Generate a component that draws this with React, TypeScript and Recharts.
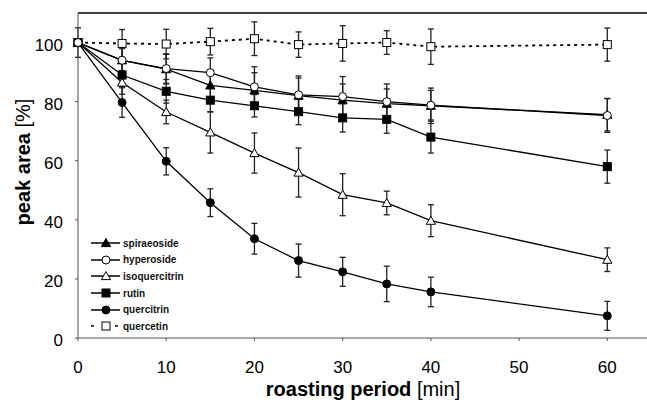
import { ErrorBar, Label, Legend, Line, LineChart, ReferenceLine, XAxis, YAxis } from 'recharts'

const MINUTES = [0, 5, 10, 15, 20, 25, 30, 35, 40, 60]

const SPIRAEOSIDE = [100, 94, 91, 85.5, 83.8, 82, 80.5, 79.3, 78.6, 75.6]
const SPIRAEOSIDE_ERR = [0, 4, 5, 5, 6, 6, 5.5, 5, 6, 5.5]
const HYPEROSIDE = [100, 94, 91.2, 89.8, 85, 82.3, 81.7, 80, 78.8, 75.3]
const HYPEROSIDE_ERR = [0, 4, 5, 5, 6.8, 6.4, 6.8, 6, 5, 5.7]
const ISOQUERCITRIN = [100, 86.5, 76.5, 69.6, 62.6, 56, 48.5, 45.7, 39.7, 26.5]
const ISOQUERCITRIN_ERR = [0, 4, 4, 7, 6.8, 8.3, 7.1, 4, 5.4, 4]
const RUTIN = [100, 89, 83.5, 80.5, 78.6, 76.6, 74.5, 74, 68, 58]
const RUTIN_ERR = [0, 4, 4, 4, 3.8, 4.4, 4.8, 4.7, 5.4, 5.6]
const QUERCITRIN = [100, 79.7, 59.8, 45.8, 33.6, 26.2, 22.4, 18.3, 15.6, 7.5]
const QUERCITRIN_ERR = [0, 5, 4.6, 4.7, 5.2, 5.6, 4.9, 6, 5, 4.9]
const QUERCETIN = [100, 99.7, 99.5, 100.3, 101.3, 99.3, 99.7, 100, 98.6, 99.3]
const QUERCETIN_ERR = [5, 4.7, 5, 4.5, 5.7, 4.3, 6, 4, 6, 5.6]

const X_TICKS = [0, 10, 20, 30, 40, 50, 60]
const Y_TICKS = [0, 20, 40, 60, 80, 100]

const FONT = '"Liberation Sans", Arial, sans-serif'
const AXIS = '#555'

type Shape = 'triangle' | 'circle' | 'square'

// legend order; the draw order below puts hyperoside on top
const SERIES: { key: string; values: number[]; errors: number[]; shape: Shape; filled: boolean; dashed?: boolean }[] = [
  { key: 'spiraeoside', values: SPIRAEOSIDE, errors: SPIRAEOSIDE_ERR, shape: 'triangle', filled: true },
  { key: 'hyperoside', values: HYPEROSIDE, errors: HYPEROSIDE_ERR, shape: 'circle', filled: false },
  { key: 'isoquercitrin', values: ISOQUERCITRIN, errors: ISOQUERCITRIN_ERR, shape: 'triangle', filled: false },
  { key: 'rutin', values: RUTIN, errors: RUTIN_ERR, shape: 'square', filled: true },
  { key: 'quercitrin', values: QUERCITRIN, errors: QUERCITRIN_ERR, shape: 'circle', filled: true },
  { key: 'quercetin', values: QUERCETIN, errors: QUERCETIN_ERR, shape: 'square', filled: false, dashed: true },
]
const DRAW_ORDER = ['quercetin', 'quercitrin', 'isoquercitrin', 'rutin', 'spiraeoside', 'hyperoside']

const data = MINUTES.map((minute, i) => {
  const row: Record<string, number> = { minute }
  SERIES.forEach((s) => {
    row[s.key] = s.values[i]
    row[s.key + 'Err'] = s.errors[i]
  })
  return row
})

function Marker({ cx, cy, shape, filled }: { cx: number; cy: number; shape: Shape; filled: boolean }) {
  const fill = filled ? '#000' : '#fff'
  if (shape === 'circle') return <circle cx={cx} cy={cy} r={4} fill={fill} stroke="#000" strokeWidth={1} />
  if (shape === 'square') return <rect x={cx - 4} y={cy - 4} width={8} height={8} fill={fill} stroke="#000" strokeWidth={1} />
  return (
    <polygon
      points={`${cx},${cy - 4.5} ${cx + 4.6},${cy + 3.6} ${cx - 4.6},${cy + 3.6}`}
      fill={fill}
      stroke="#000"
      strokeWidth={1}
    />
  )
}

function LegendBox() {
  return (
    <div style={{ fontFamily: FONT, fontSize: 10, fontWeight: 700, color: '#111' }}>
      {SERIES.map((s) => (
        <div key={s.key} style={{ display: 'flex', alignItems: 'center', height: 16.6 }}>
          <svg width={33} height={14}>
            <line x1={2} x2={31} y1={7} y2={7} stroke="#000" strokeWidth={1.5} strokeDasharray={s.dashed ? '3 9' : undefined} />
            <Marker cx={17} cy={7} shape={s.shape} filled={s.filled} />
          </svg>
          <span style={{ marginLeft: 1 }}>{s.key}</span>
        </div>
      ))}
    </div>
  )
}

function YTick({ x, y, payload }: any) {
  return (
    <text x={x} y={y + 2} dy="0.355em" textAnchor="end" fontFamily={FONT} fontSize={17} fill="#000">
      {payload.value}
    </text>
  )
}

export default function App() {
  return (
    <div style={{ position: 'absolute', left: 0, top: 0 }}>
      <LineChart width={647} height={402} data={data} margin={{ top: 13, right: 0, left: 0, bottom: 0 }}>
        <XAxis
          dataKey="minute"
          type="number"
          domain={[0, 64.5]}
          ticks={X_TICKS}
          height={64}
          stroke={AXIS}
          tickSize={3}
          tickMargin={20}
          tick={{ fill: '#000', fontSize: 17, fontFamily: FONT }}
        >
          <Label
            content={() => (
              <text x={363} y={396} textAnchor="middle" fontFamily={FONT} fontSize={20} fill="#000">
                <tspan fontWeight={700}>roasting period </tspan>
                <tspan>[min]</tspan>
              </text>
            )}
          />
        </XAxis>
        <YAxis
          type="number"
          domain={[0, 110]}
          ticks={Y_TICKS}
          width={78}
          stroke={AXIS}
          tickSize={3}
          tickMargin={12}
          tick={<YTick />}
        >
          <Label
            content={() => (
              <text
                x={30}
                y={162}
                transform="rotate(-90 30 162)"
                textAnchor="middle"
                fontFamily={FONT}
                fontSize={20}
                fill="#000"
              >
                <tspan fontWeight={700}>peak area </tspan>
                <tspan>[%]</tspan>
              </text>
            )}
          />
        </YAxis>
        <ReferenceLine y={110} stroke="#000" strokeWidth={1.5} />
        <Legend
          layout="vertical"
          align="center"
          verticalAlign="middle"
          content={() => <LegendBox />}
          wrapperStyle={{ position: 'absolute', left: 89, top: 235, width: 'auto', height: 'auto' }}
        />
        {DRAW_ORDER.map((key) => {
          const s = SERIES.find((x) => x.key === key)!
          return (
            <Line
              key={key}
              dataKey={key}
              stroke="#000"
              strokeWidth={s.dashed ? 1.8 : 1.3}
              strokeDasharray={s.dashed ? '3 4' : undefined}
              isAnimationActive={false}
              dot={(p: any) => <Marker key={`${key}-${p.index}`} cx={p.cx} cy={p.cy} shape={s.shape} filled={s.filled} />}
              activeDot={false}
            >
              <ErrorBar dataKey={key + 'Err'} width={3} stroke="#222" strokeWidth={1.3} isAnimationActive={false} />
            </Line>
          )
        })}
      </LineChart>
    </div>
  )
}
